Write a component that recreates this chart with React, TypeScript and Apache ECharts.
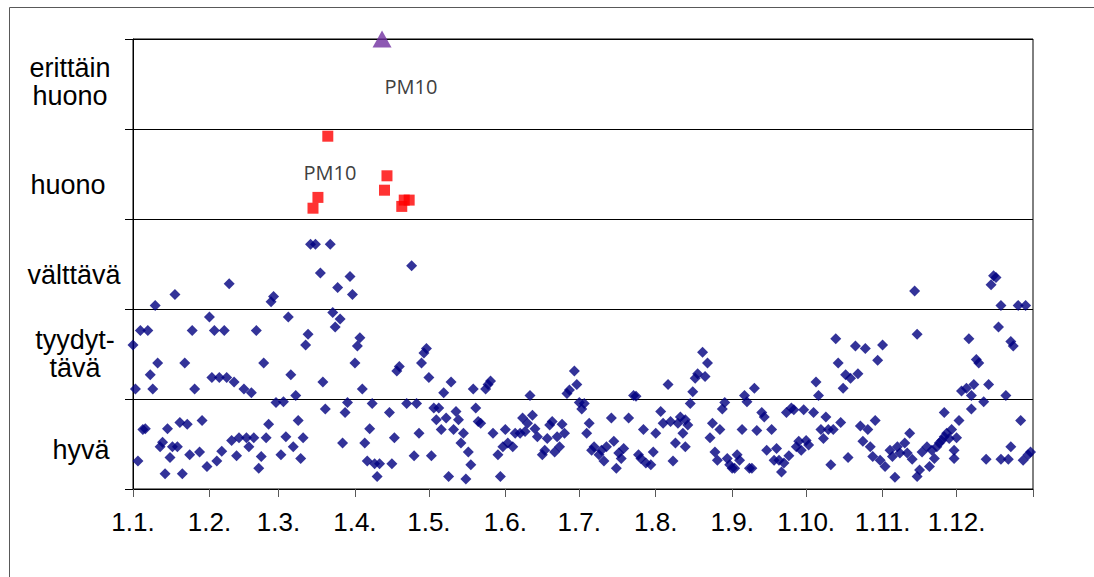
import { useEffect, useRef } from "react";
import * as echarts from "echarts";

// Month start days (day of year, 0 = 1 Jan) and their labels
const monthStarts = [0, 31, 59, 90, 120, 151, 181, 212, 243, 273, 304, 334];
const monthLabels = ["1.1.", "1.2.", "1.3.", "1.4.", "1.5.", "1.6.", "1.7.", "1.8.", "1.9.", "1.10.", "1.11.", "1.12."];
const yearEnd = 365;

// Air quality index classes (0..5)
const classLabels = ["hyvä", "tyydyt-\ntävä", "välttävä", "huono", "erittäin\nhuono"];

// Daily air quality index [day of year, index]
const dailyJanFeb: [number, number][] = [
  [39, 2.28], [17, 2.16], [9, 2.04], [57, 2.14], [56, 2.08], [31, 1.91], [3, 1.76], [6, 1.76], [24, 1.76], [33, 1.76],
  [37, 1.76], [50, 1.76], [0, 1.6], [10, 1.4], [21, 1.4], [53, 1.4], [7, 1.27], [32, 1.24], [35, 1.24], [38, 1.24],
  [41, 1.19], [1, 1.11], [8, 1.11], [25, 1.11], [45, 1.11], [48, 1.07], [58, 0.96], [61, 0.97], [5, 0.67], [4, 0.66],
  [14, 0.67], [19, 0.74], [22, 0.72], [28, 0.76], [55, 0.72], [12, 0.52], [11, 0.47], [16, 0.47], [18, 0.47], [15, 0.35],
  [23, 0.38], [27, 0.41], [30, 0.25], [36, 0.42], [34, 0.31], [40, 0.54], [43, 0.57], [46, 0.57], [49, 0.57], [42, 0.37],
  [47, 0.47], [54, 0.57], [52, 0.36], [51, 0.23], [2, 0.31], [13, 0.17], [20, 0.17], [60, 0.38], [62, 0.58],
];
const dailyMarApr: [number, number][] = [
  [72, 2.72], [74, 2.72], [80, 2.72], [113, 2.48], [76, 2.4], [88, 2.36], [83, 2.24], [89, 2.16], [63, 1.91], [81, 1.96],
  [84, 1.89], [82, 1.8], [71, 1.72], [70, 1.6], [92, 1.68], [91, 1.59], [90, 1.4], [119, 1.56], [118, 1.51], [117, 1.4],
  [108, 1.36], [107, 1.31], [120, 1.24], [64, 1.27], [77, 1.19], [66, 1.04], [93, 1.11], [87, 0.96], [86, 0.85], [97, 0.95],
  [111, 0.95], [115, 0.95], [122, 0.9], [124, 0.9], [78, 0.89], [104, 0.85], [67, 0.76], [96, 0.67], [123, 0.77], [125, 0.66],
  [69, 0.57], [65, 0.47], [106, 0.57], [116, 0.62], [85, 0.51], [94, 0.51], [68, 0.34], [95, 0.31], [98, 0.28], [100, 0.28],
  [105, 0.28], [99, 0.14], [114, 0.37], [121, 0.37],
];
const dailyMayJun: [number, number][] = [
  [129, 1.19], [126, 1.07], [138, 1.11], [145, 1.2], [144, 1.16], [143, 1.11], [179, 1.31], [180, 1.16], [177, 1.1], [176, 1.06],
  [161, 1.04], [181, 0.96], [183, 0.95], [182, 0.89], [131, 0.86], [132, 0.77], [127, 0.79], [139, 0.9], [140, 0.75], [141, 0.73],
  [130, 0.66], [134, 0.62], [133, 0.51], [136, 0.41], [137, 0.27], [128, 0.14], [135, 0.11], [146, 0.62], [151, 0.66], [148, 0.38],
  [150, 0.47], [152, 0.51], [154, 0.47], [149, 0.14], [155, 0.62], [157, 0.62], [159, 0.64], [158, 0.79], [162, 0.82], [160, 0.73],
  [163, 0.67], [164, 0.58], [166, 0.38], [167, 0.43], [170, 0.75], [169, 0.71], [168, 0.56], [171, 0.41], [174, 0.72], [172, 0.58],
  [175, 0.62], [173, 0.47], [185, 0.73], [184, 0.62], [186, 0.43],
];
const dailyJulAug: [number, number][] = [
  [231, 1.52], [233, 1.4], [229, 1.28], [232, 1.25], [228, 1.23], [217, 1.16], [227, 1.08], [203, 1.04], [204, 1.03], [226, 0.95],
  [248, 1.04], [249, 0.97], [240, 0.96], [239, 0.89], [194, 0.79], [201, 0.79], [214, 0.86], [207, 0.66], [212, 0.62], [215, 0.73],
  [218, 0.75], [221, 0.73], [222, 0.8], [224, 0.77], [225, 0.71], [223, 0.62], [235, 0.73], [238, 0.66], [234, 0.57], [247, 0.66],
  [187, 0.47], [190, 0.43], [192, 0.47], [195, 0.53], [189, 0.38], [191, 0.31], [197, 0.4], [199, 0.45], [198, 0.34], [196, 0.23],
  [205, 0.38], [206, 0.34], [208, 0.29], [210, 0.27], [211, 0.41], [219, 0.31], [220, 0.51], [224, 0.47], [236, 0.41], [237, 0.32],
  [241, 0.34], [242, 0.27], [245, 0.38], [246, 0.32], [243, 0.23], [244, 0.23], [250, 0.23],
];
const dailySepOct: [number, number][] = [
  [285, 1.67], [293, 1.59], [297, 1.56], [304, 1.6], [302, 1.43], [286, 1.4], [289, 1.27], [291, 1.23], [294, 1.28], [288, 1.12],
  [277, 1.19], [278, 1.04], [252, 1.12], [255, 0.85], [256, 0.8], [253, 0.65], [259, 0.66], [265, 0.85], [267, 0.9], [268, 0.88],
  [272, 0.88], [276, 0.85], [281, 0.8], [287, 0.74], [279, 0.66], [282, 0.66], [284, 0.66], [280, 0.56], [295, 0.7], [298, 0.66],
  [301, 0.76], [257, 0.43], [261, 0.45], [260, 0.32], [262, 0.32], [264, 0.29], [263, 0.19], [251, 0.23], [269, 0.47], [270, 0.53],
  [273, 0.54], [274, 0.49], [271, 0.43], [266, 0.37], [283, 0.27], [290, 0.35], [296, 0.53], [299, 0.47], [300, 0.36], [303, 0.32],
  [305, 0.25], [309, 0.13], [307, 0.43], [310, 0.47], [311, 0.4], [308, 0.36],
];
const dailyNovDec: [number, number][] = [
  [349, 2.37], [350, 2.35], [348, 2.27], [317, 2.2], [352, 2.04], [359, 2.04], [362, 2.04], [318, 1.72], [351, 1.8], [339, 1.67],
  [356, 1.64], [357, 1.59], [342, 1.44], [343, 1.4], [336, 1.09], [338, 1.12], [341, 1.16], [340, 1.04], [347, 1.16], [354, 1.04],
  [345, 0.97], [340, 0.89], [329, 0.85], [335, 0.76], [360, 0.76], [315, 0.62], [330, 0.62], [332, 0.66], [331, 0.56], [334, 0.57],
  [313, 0.51], [314, 0.4], [316, 0.33], [322, 0.47], [320, 0.41], [324, 0.43], [325, 0.34], [323, 0.25], [319, 0.21], [318, 0.14],
  [326, 0.47], [327, 0.51], [328, 0.54], [329, 0.58], [333, 0.43], [333, 0.34], [346, 0.33], [352, 0.33], [355, 0.33], [356, 0.47],
  [361, 0.32], [363, 0.38], [364, 0.41],
];

// Poor (huono) days, PM10
const poorDays = [79, 75, 73, 103, 102, 110, 112, 109];
const poorValues = [3.92, 3.24, 3.12, 3.48, 3.32, 3.21, 3.21, 3.14];

// Very poor (erittäin huono) day, PM10
const veryPoorDays = [101];
const veryPoorValues = [5.0];

const labelFont = '"Liberation Sans", Arial, sans-serif';

export default function App() {
  const ref = useRef<HTMLDivElement>(null);

  useEffect(() => {
    if (!ref.current) return;
    const chart = echarts.init(ref.current, undefined, { renderer: "svg" });

    const daily = [...dailyJanFeb, ...dailyMarApr, ...dailyMayJun, ...dailyJulAug, ...dailySepOct, ...dailyNovDec];
    const poor = poorDays.map((d, i) => [d, poorValues[i]]);
    const veryPoor = veryPoorDays.map((d, i) => [d, veryPoorValues[i]]);

    const bandText = (text: string, x: number, y: number) => ({
      type: "text",
      x,
      y,
      silent: true,
      style: {
        text,
        fill: "#000",
        fontSize: 27,
        fontFamily: labelFont,
        textAlign: "center",
        textVerticalAlign: "middle",
        lineHeight: 28,
      },
    });
    const pmText = (x: number, y: number) => ({
      type: "text",
      x,
      y,
      silent: true,
      style: {
        text: "PM10",
        fill: "#404040",
        fontSize: 20,
        fontFamily: '"Open Sans", sans-serif',
        textAlign: "center",
        textVerticalAlign: "middle",
      },
    });

    chart.setOption({
      animation: false,
      backgroundColor: "#fff",
      grid: {
        left: 133,
        right: 61,
        top: 39,
        bottom: 88,
        show: true,
        borderColor: "#000",
        borderWidth: 1,
        backgroundColor: "transparent",
      },
      xAxis: {
        type: "value",
        min: 0,
        max: yearEnd,
        axisLine: { show: true, lineStyle: { color: "#000", width: 1 } },
        axisTick: {
          show: true,
          customValues: [...monthStarts, yearEnd],
          length: 8,
          lineStyle: { color: "#595959" },
        },
        axisLabel: {
          show: true,
          customValues: monthStarts,
          formatter: (v: number) => monthLabels[monthStarts.indexOf(v)] ?? "",
          fontSize: 26,
          fontFamily: labelFont,
          color: "#000",
          margin: 20,
        },
        splitLine: { show: false },
      },
      yAxis: {
        type: "value",
        min: 0,
        max: 5,
        interval: 1,
        axisLine: { show: true, lineStyle: { color: "#000", width: 1 } },
        axisTick: { show: true, inside: false, length: 8, lineStyle: { color: "#000" } },
        axisLabel: { show: false },
        splitLine: { show: true, lineStyle: { color: "#000", width: 1 } },
      },
      graphic: [
        {
          type: "rect",
          silent: true,
          z: -10,
          shape: { x: 9.5, y: 7.5, width: 1300, height: 800 },
          style: { fill: "none", stroke: "#595959", lineWidth: 1 },
        },
        bandText(classLabels[4], 70, 82),
        bandText(classLabels[3], 68, 185),
        bandText(classLabels[2], 74, 275),
        bandText(classLabels[1], 75, 354),
        bandText(classLabels[0], 81, 450),
        pmText(411, 86),
        pmText(330, 172),
      ],
      series: [
        {
          name: "daily",
          type: "scatter",
          symbol: "diamond",
          symbolSize: 11,
          clip: false,
          itemStyle: { color: "#000080" },
          data: daily,
          z: 3,
        },
        {
          name: "huono",
          type: "scatter",
          symbol: "rect",
          symbolSize: 11,
          clip: false,
          itemStyle: { color: "#ff0000" },
          data: poor,
          z: 4,
        },
        {
          name: "erittäin huono",
          type: "scatter",
          symbol: "triangle",
          symbolSize: [19, 17],
          clip: false,
          itemStyle: { color: "#7030a0" },
          data: veryPoor,
          z: 4,
        },
      ],
    });

    return () => chart.dispose();
  }, []);

  return (
    <div
      ref={ref}
      style={{ position: "absolute", left: 0, top: 0, width: 1094, height: 577 }}
    />
  );
}
